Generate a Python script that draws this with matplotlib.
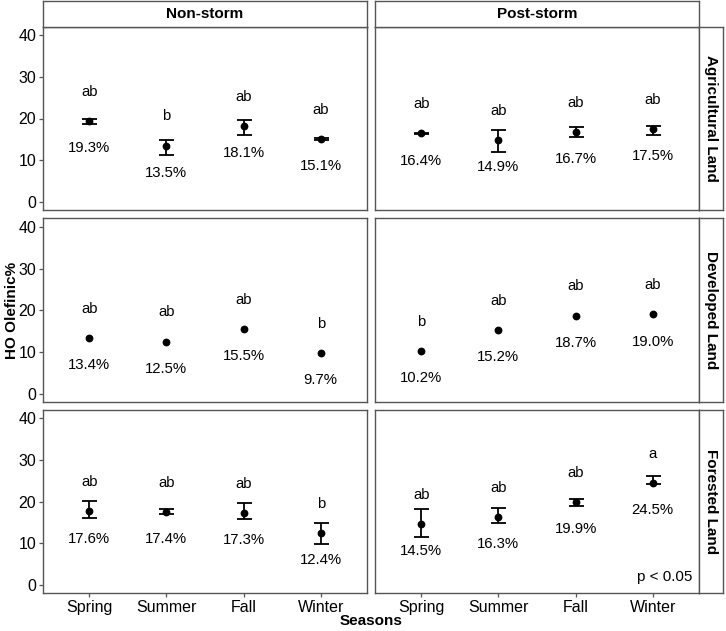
import matplotlib
matplotlib.use('Agg')
import matplotlib.pyplot as plt
import numpy as np

plt.rcParams['font.family'] = ['Liberation Sans', 'DejaVu Sans']

seasons = ['Spring', 'Summer', 'Fall', 'Winter']
periods = ['Non-storm', 'Post-storm']
lands = ['Agricultural Land', 'Developed Land', 'Forested Land']

# means (as labelled), error bar limits, letter groups
ag_ns = [19.3, 13.5, 18.1, 15.1]
ag_ns_lo = [18.6, 11.3, 16.0, 14.8]
ag_ns_hi = [19.9, 14.9, 19.6, 15.3]
ag_ns_grp = ['ab', 'b', 'ab', 'ab']

ag_ps = [16.4, 14.9, 16.7, 17.5]
ag_ps_lo = [16.2, 12.0, 15.6, 16.1]
ag_ps_hi = [16.6, 17.3, 17.85, 18.1]
ag_ps_grp = ['ab', 'ab', 'ab', 'ab']

dev_ns = [13.4, 12.5, 15.5, 9.7]
dev_ns_grp = ['ab', 'ab', 'ab', 'b']

dev_ps = [10.2, 15.2, 18.7, 19.0]
dev_ps_grp = ['b', 'ab', 'ab', 'ab']

for_ns = [17.6, 17.4, 17.3, 12.4]
for_ns_lo = [16.1, 16.9, 15.8, 9.8]
for_ns_hi = [20.1, 18.3, 19.7, 14.9]
for_ns_grp = ['ab', 'ab', 'ab', 'b']

for_ps = [14.5, 16.3, 19.9, 24.5]
for_ps_lo = [11.5, 14.8, 18.8, 24.1]
for_ps_hi = [18.2, 18.55, 20.5, 26.2]
for_ps_grp = ['ab', 'ab', 'ab', 'a']

panels = [
    [(ag_ns, ag_ns_lo, ag_ns_hi, ag_ns_grp), (ag_ps, ag_ps_lo, ag_ps_hi, ag_ps_grp)],
    [(dev_ns, None, None, dev_ns_grp), (dev_ps, None, None, dev_ps_grp)],
    [(for_ns, for_ns_lo, for_ns_hi, for_ns_grp), (for_ps, for_ps_lo, for_ps_hi, for_ps_grp)],
]

W, H = 726, 631
fig = plt.figure(figsize=(W / 100, H / 100), dpi=100)

col_x = [(43, 367), (375, 699)]
row_y = [(27, 210), (218.5, 402), (410, 593)]
edge = '#555555'


def px_box(x0, x1, y0, y1):
    return [x0 / W, 1 - y1 / H, (x1 - x0) / W, (y1 - y0) / H]


x = np.arange(1, 5)
for r in range(3):
    for c in range(2):
        means, lo, hi, grp = panels[r][c]
        ax = fig.add_axes(px_box(col_x[c][0], col_x[c][1], row_y[r][0], row_y[r][1]))
        if lo is not None:
            m = np.array(means)
            ax.errorbar(x, m, yerr=[m - np.array(lo), np.array(hi) - m], fmt='none',
                        ecolor='black', elinewidth=1.3, capsize=5.4, capthick=1.3)
        ax.plot(x, means, 'o', color='black', markersize=4.6)
        for xi, mi, g in zip(x, means, grp):
            ax.text(xi, mi + 7, g, ha='center', va='center', fontsize=10.7)
            ax.text(xi, mi - 6.5, '%.1f%%' % mi, ha='center', va='center', fontsize=10.7)
        ax.set_xlim(0.4, 4.6)
        ax.set_ylim(-2, 42)
        ax.set_yticks([0, 10, 20, 30, 40])
        ax.set_xticks(x)
        for s in ax.spines.values():
            s.set_color(edge)
            s.set_linewidth(1.0)
        ax.tick_params(colors=edge, length=3, width=0.9, labelcolor='black', labelsize=11.5, pad=2)
        if c == 0:
            ax.set_yticklabels(['0', '10', '20', '30', '40'])
        else:
            ax.tick_params(axis='y', left=False, labelleft=False)
        if r == 2:
            ax.set_xticklabels(seasons)
        else:
            ax.tick_params(axis='x', bottom=False, labelbottom=False)
        if r == 2 and c == 1:
            ax.text(4.52, 1.8, 'p < 0.05', ha='right', va='center', fontsize=11)

# column strips
for c in range(2):
    sa = fig.add_axes(px_box(col_x[c][0], col_x[c][1], 1, 27))
    sa.set_xticks([])
    sa.set_yticks([])
    for s in sa.spines.values():
        s.set_color(edge)
        s.set_linewidth(1.0)
    sa.text(0.5, 0.5, periods[c], ha='center', va='center', fontsize=11,
            fontweight='bold', transform=sa.transAxes)

# row strips
for r in range(3):
    sa = fig.add_axes(px_box(699, 723, row_y[r][0], row_y[r][1]))
    sa.set_xticks([])
    sa.set_yticks([])
    for s in sa.spines.values():
        s.set_color(edge)
        s.set_linewidth(1.0)
    sa.text(0.5, 0.5, lands[r], ha='center', va='center', fontsize=11,
            fontweight='bold', rotation=-90, transform=sa.transAxes)

fig.text(371 / W, 1 - 621 / H, 'Seasons', ha='center', va='center', fontsize=11, fontweight='bold')
fig.text(12 / W, 1 - 310 / H, 'HO Olefinic%', ha='center', va='center', fontsize=11,
         fontweight='bold', rotation=90)

fig.savefig('out.png', dpi=100)
